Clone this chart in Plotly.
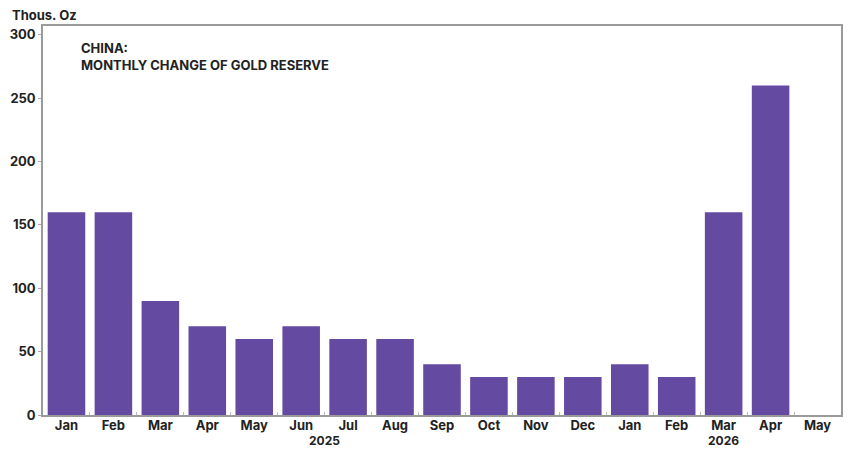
import plotly.graph_objects as go

months = ["Jan", "Feb", "Mar", "Apr", "May", "Jun", "Jul", "Aug", "Sep", "Oct", "Nov", "Dec",
          "Jan", "Feb", "Mar", "Apr", "May"]
years = ["2025"] * 12 + ["2026"] * 5
values = [160, 160, 90, 70, 60, 70, 60, 60, 40, 30, 30, 30, 40, 30, 160, 260, None]
year_labels = ["2025", "2026"]
year_label_pos = [5.5, 14]
y_ticks = [0, 50, 100, 150, 200, 250, 300]

keys = [f"{m} {y}" for m, y in zip(months, years)]

FONT = "Inter"
BAR = "#654aa1"
TXT = "#222222"

fig = go.Figure()
fig.add_trace(go.Bar(x=keys, y=values, marker=dict(color=BAR, line=dict(width=0)),
                     width=0.8))

fig.update_layout(
    width=851, height=450,
    margin=dict(l=43, r=8, t=26, b=35),
    plot_bgcolor="white", paper_bgcolor="white",
    showlegend=False,
    font=dict(family=FONT, size=13, color=TXT),
)
fig.update_xaxes(
    type="category", tickvals=keys, ticktext=months,
    range=[-0.5, 16.5],
    showline=True, linecolor="#9a9a9a", linewidth=1.5, mirror=True,
    ticks="inside", tickson="boundaries", ticklen=3, tickcolor="#bbbbbb",
    ticklabelstandoff=-2,
    tickfont=dict(family=FONT, size=13, color=TXT, weight="bold"),
    showgrid=False, zeroline=False,
)
fig.update_yaxes(
    range=[0, 307], tickvals=y_ticks,
    showline=True, linecolor="#9a9a9a", linewidth=1.5, mirror=True,
    ticks="outside", ticklen=3, tickcolor="#aaaaaa",
    tickfont=dict(family=FONT, size=13, color=TXT, weight="bold"),
    showgrid=False, zeroline=False,
)

for lbl, pos in zip(year_labels, year_label_pos):
    fig.add_annotation(x=pos, y=0, xref="x", yref="paper", text=lbl, showarrow=False,
                       yanchor="bottom", yshift=-35,
                       font=dict(family=FONT, size=12, color=TXT, weight="bold"))

fig.add_annotation(x=-33 / 800, y=1 + 11 / 389, xref="paper", yref="paper",
                   xanchor="left", yanchor="middle", text="Thous. Oz", showarrow=False,
                   font=dict(family=FONT, size=13, color=TXT, weight="bold"))
fig.add_annotation(x=36 / 800, y=1 - 12 / 389, xref="paper", yref="paper",
                   xanchor="left", yanchor="top", align="left",
                   text="CHINA:<br>MONTHLY CHANGE OF GOLD RESERVE", showarrow=False,
                   font=dict(family=FONT, size=13, color=TXT, weight="bold"))

fig.write_html("out.html", config={"displayModeBar": False},
               post_script="document.body.style.margin='0';")
